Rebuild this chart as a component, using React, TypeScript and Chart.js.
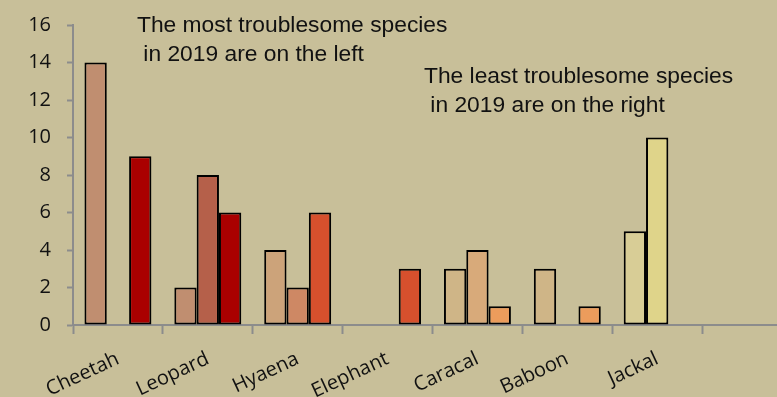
import React, { useEffect, useRef } from "react";
import { Chart, registerables } from "chart.js";

Chart.register(...registerables);

// Species complaint counts, three groups per species
const species = ["Cheetah", "Leopard", "Hyaena", "Elephant", "Caracal", "Baboon", "Jackal", ""];
const seriesA = [14, 2, 4, null, 3, 3, 5, null];
const seriesB = [null, 8, 2, null, 4, null, 10, null];
const seriesC = [9, 6, 6, 3, 1, 1, null, null];

const coloursA = ["#c08e70", "#c08e70", "#cca37a", "#cca37a", "#cfb587", "#cfb587", "#d8cd96", "#d8cd96"];
const coloursB = ["#b5604a", "#b5604a", "#ce8864", "#ce8864", "#d8aa7a", "#d8aa7a", "#dfd48a", "#dfd48a"];
const coloursC = ["#aa0000", "#aa0000", "#d6502d", "#d6502d", "#ec9c5c", "#ec9c5c", "#dfd48a", "#dfd48a"];

const yTicks = [0, 2, 4, 6, 8, 10, 12, 14, 16];

const noteLeft = ["The most troublesome species", " in 2019 are on the left"];
const noteRight = ["The least troublesome species", " in 2019 are on the right"];

const BG = "#c8bf99";
const AXIS = "#8c8c8c";

const backgroundPlugin = {
  id: "bgFill",
  beforeDraw(chart: any) {
    const { ctx, width, height } = chart;
    ctx.save();
    ctx.fillStyle = BG;
    ctx.fillRect(0, 0, width, height);
    ctx.restore();
  },
};

const notesPlugin = {
  id: "notes",
  afterDraw(chart: any) {
    const { ctx } = chart;
    ctx.save();
    ctx.fillStyle = "#111111";
    ctx.font = "22.8px 'Liberation Sans', Arial, sans-serif";
    ctx.textBaseline = "alphabetic";
    ctx.textAlign = "left";
    ctx.fillText(noteLeft[0], 137, 32);
    ctx.fillText(noteLeft[1], 137, 61);
    ctx.fillText(noteRight[0], 424, 83);
    ctx.fillText(noteRight[1], 424, 112);
    ctx.restore();
  },
};

export default function App() {
  const canvasRef = useRef<HTMLCanvasElement | null>(null);

  useEffect(() => {
    if (!canvasRef.current) return;
    const ds = (data: (number | null)[], colours: string[]) => ({
      data,
      backgroundColor: colours,
      borderColor: "#000000",
      borderWidth: 2,
      borderSkipped: false,
      categoryPercentage: 0.745,
      barPercentage: 1,
    });
    const chart = new Chart(canvasRef.current, {
      type: "bar",
      data: {
        labels: species,
        datasets: [ds(seriesA, coloursA), ds(seriesB, coloursB), ds(seriesC, coloursC)],
      },
      plugins: [backgroundPlugin, notesPlugin],
      options: {
        animation: false,
        responsive: false,
        devicePixelRatio: 1,
        layout: { padding: { top: 25, right: 0, left: 0, bottom: 0 } },
        plugins: { legend: { display: false }, tooltip: { enabled: false } },
        scales: {
          x: {
            z: 1,
            grid: {
              display: true,
              offset: true,
              drawOnChartArea: false,
              drawTicks: true,
              tickLength: 9,
              tickWidth: 2,
              tickColor: AXIS,
            },
            border: { display: true, color: AXIS, width: 2 },
            ticks: {
              autoSkip: false,
              minRotation: 25,
              maxRotation: 25,
              padding: 13,
              color: "#111111",
              font: { family: "'Open Sans', sans-serif", size: 20 },
            },
            afterFit(scale: any) {
              scale.height = 72;
              scale.paddingLeft = 0;
              scale.paddingRight = 0;
            },
          },
          y: {
            min: 0,
            max: 16,
            afterBuildTicks(scale: any) {
              scale.ticks = yTicks.map((v) => ({ value: v }));
            },
            grid: {
              display: true,
              drawOnChartArea: false,
              drawTicks: true,
              tickLength: 6,
              tickWidth: 2,
              tickColor: AXIS,
            },
            border: { display: true, color: AXIS, width: 2 },
            ticks: {
              padding: 16,
              color: "#111111",
              font: { family: "'Open Sans', sans-serif", size: 20 },
            },
            afterFit(scale: any) {
              scale.width = 73;
              scale.paddingTop = 0;
              scale.paddingBottom = 0;
            },
          },
        },
      },
    });
    return () => chart.destroy();
  }, []);

  return (
    <div
      style={{
        position: "absolute",
        left: 0,
        top: 0,
        width: 777,
        height: 397,
        overflow: "hidden",
        background: BG,
      }}
    >
      <canvas ref={canvasRef} width={792} height={397} style={{ width: 792, height: 397, display: "block" }} />
    </div>
  );
}
